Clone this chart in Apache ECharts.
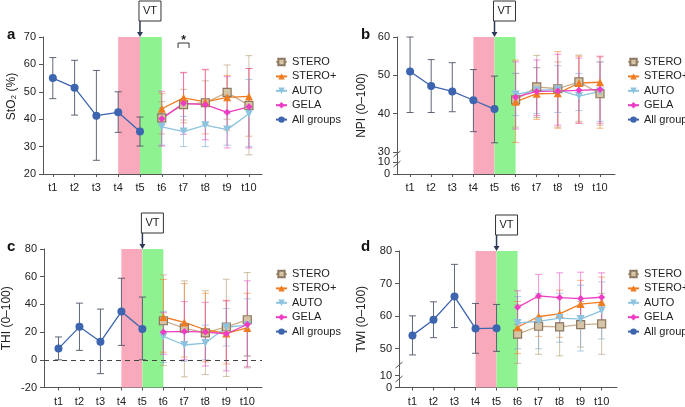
<!DOCTYPE html>
<html><head><meta charset="utf-8">
<script src="https://cdn.jsdelivr.net/npm/echarts@6/dist/echarts.min.js"></script>
<style>html,body{margin:0;padding:0;background:#fff}#c{width:685px;height:407px}</style>
</head><body><div id="c"></div>
<script>
// ---------- data ----------
const categories = ['t1','t2','t3','t4','t5','t6','t7','t8','t9','t10'];
const groupNames = ['STERO','STERO+','AUTO','GELA'];
const allName = 'All groups';

// Panel a: StO2 (%)
const stoAllMean = [55.0, 51.5, 41.3, 42.5, 35.5];
const stoAllLow  = [47.5, 41.5, 25.0, 35.2, 30.2];
const stoAllHigh = [62.5, 61.5, 57.8, 50.0, 40.8];
const stoGroupMean = [[40.5,45.3,46.0,49.8,45.0],[43.8,47.8,46.3,48.0,48.3],[37.2,35.5,37.8,36.2,42.0],[40.2,45.8,45.3,42.5,44.5]];
const stoGroupLow  = [[34.6,39.7,38.0,40.0,27.0],[38.2,38.7,34.6,36.0,33.8],[30.5,30.0,30.0,30.5,30.0],[30.2,34.5,32.5,29.5,29.5]];
const stoGroupHigh = [[46.4,50.9,54.0,59.8,63.2],[49.4,56.9,58.0,56.0,58.5],[44.0,41.0,45.6,42.0,54.5],[50.2,57.1,58.2,55.5,58.5]];

// Panel b: NPI (0–100)
const npiAllMean = [51.0, 47.2, 45.8, 43.5, 41.2];
const npiAllLow  = [40.3, 40.3, 40.5, 35.3, 32.4];
const npiAllHigh = [60.0, 54.1, 53.3, 51.5, 49.8];
const npiGroupMean = [[43.6,47.0,46.5,48.3,45.2],[43.1,45.2,45.3,48.0,48.2],[45.0,46.1,46.3,44.6,45.8],[44.3,45.8,45.9,46.1,46.3]];
const npiGroupLow  = [[36.5,39.0,36.5,38.0,37.0],[32.5,38.5,36.2,37.5,36.2],[39.5,40.0,40.3,40.8,38.0],[36.0,39.5,37.0,37.5,37.5]];
const npiGroupHigh = [[50.5,55.2,53.5,55.3,53.5],[54.0,52.0,56.2,55.0,54.8],[50.5,52.0,52.5,50.5,53.5],[53.5,54.0,55.5,54.5,55.0]];
const npiTickLabels = [0, 10, 30, 40, 50, 60];

// Panel c: THI (0–100)
const thiAllMean = [8.1, 23.8, 13.0, 34.8, 22.3];
const thiAllLow  = [0.0, 6.8, -10.0, 10.4, 0.0];
const thiAllHigh = [16.5, 40.9, 36.6, 58.9, 45.3];
const thiGroupMean = [[28.2,22.9,19.4,23.7,28.9],[30.9,27.0,21.7,19.0,23.0],[16.9,10.7,12.1,23.5,25.0],[20.1,20.5,20.0,18.8,25.5]];
const thiGroupLow  = [[-4.2,-12.3,-10.7,-12.0,-5.8],[5.5,2.0,-1.5,-3.0,3.0],[-2.0,-1.0,0.0,10.0,2.5],[4.0,0.0,-4.5,-8.0,-5.0]];
const thiGroupHigh = [[61.3,57.0,49.8,58.2,63.0],[58.0,55.0,48.0,43.0,48.0],[35.0,25.0,25.0,37.0,44.0],[34.0,42.0,41.5,42.5,57.0]];

// Panel d: TWI (0–100)
const twiAllMean = [54.1, 58.9, 66.0, 56.2, 56.3];
const twiAllLow  = [48.1, 53.4, 56.5, 48.6, 49.2];
const twiAllHigh = [60.1, 64.4, 75.9, 63.9, 63.6];
const twiGroupMean = [[54.5,56.9,56.7,57.4,57.6],[56.6,59.9,60.7,63.7,64.3],[57.9,58.4,59.4,59.1,61.7],[62.7,66.2,65.7,65.4,65.8]];
const twiGroupLow  = [[45.5,48.3,47.8,50.5,48.3],[48.5,53.8,53.5,56.5,56.5],[50.0,50.0,52.0,49.3,53.0],[57.5,59.5,58.0,58.0,58.5]];
const twiGroupHigh = [[63.5,65.5,65.5,64.5,67.0],[64.5,66.0,68.0,71.0,72.0],[66.0,67.0,67.0,69.5,70.5],[67.8,72.8,73.3,73.5,73.3]];
const twiTickLabels = [0, 10, 50, 60, 70, 80];

// ---------- styles / layout ----------
const FONT = '"Liberation Sans", Arial, "DejaVu Sans", sans-serif';
const PINK = '#f8a9bb', GREEN = '#8ef291';
const allStyle = {symbol:'circle', size:8, fill:'#3d64ae', border:'#3d64ae', bw:0, line:'#3d64ae', err:'rgba(70,78,100,0.85)'};
const groupStyles = [
  {symbol:'rect', size:8, fill:'#d6c4a7', border:'#8c7760', bw:1.2, line:'#c9ad8a', err:'rgba(185,160,120,0.65)'},
  {symbol:'triangle', size:8, fill:'#f07c22', border:'#f07c22', bw:0, line:'#f07c22', err:'rgba(240,124,34,0.55)'},
  {symbol:'path://M0,0L10,0L5,9Z', size:8, fill:'#8dc3de', border:'#8dc3de', bw:0, line:'#8dc3de', err:'rgba(120,170,205,0.6)'},
  {symbol:'diamond', size:7, fill:'#ee3cc4', border:'#ee3cc4', bw:0, line:'#ee3cc4', err:'rgba(232,60,190,0.55)'}
];

const xsAll = categories.slice(0,5).map((c,i)=>i+1);
const xsGrp = categories.slice(5).map((c,i)=>i+6);
const catIdx = categories.map((c,i)=>i+1);

const grids = [
  {left:43, top:37, width:219, height:137},
  {left:397, top:37, width:218, height:137},
  {left:43, top:249, width:219, height:139},
  {left:399, top:251, width:218, height:137}
];
const xRanges = [[0.55,10.6],[0.38,10.71],[0.31,10.7],[0.36,10.73]];
const npiTickPos = [24.26, 27.39, 30, 40, 50, 60];
const twiTickPos = [38.1, 41.77, 50, 60, 70, 80];

function labelFor(pos, labels) {
  return function(v){
    for (let i=0;i<pos.length;i++) if (Math.abs(pos[i]-v) < 0.05) return String(labels[i]);
    return '';
  };
}

const xAxes = grids.map((g,i)=>({
  type:'value', gridIndex:i, min:xRanges[i][0], max:xRanges[i][1],
  axisLine:{show:true, onZero:false, lineStyle:{color:'#555', width:1}},
  axisTick:{show:true, length:3, customValues:catIdx, lineStyle:{color:'#555'}},
  axisLabel:{customValues:catIdx, formatter:v=>categories[Math.round(v)-1], color:'#222', fontSize:11, fontFamily:FONT, margin:8.5},
  splitLine:{show:false}
}));

const yName = {color:'#222', fontSize:12, fontFamily:FONT};
const yAxes = [
  {type:'value', gridIndex:0, min:20, max:70, interval:10, name:'StO\u2082 (%)', nameLocation:'middle', nameGap:25,
   nameTextStyle:Object.assign({padding:[0,0,0,18]}, yName)},
  {type:'value', gridIndex:1, min:npiTickPos[0], max:60, name:'NPI (0\u2013100)', nameLocation:'middle', nameGap:29,
   nameTextStyle:yName,
   axisTick:{customValues:npiTickPos}, axisLabel:{customValues:npiTickPos, formatter:labelFor(npiTickPos, npiTickLabels)}},
  {type:'value', gridIndex:2, min:-20, max:80, interval:20, name:'THI (0\u2013100)', nameLocation:'middle', nameGap:31,
   nameTextStyle:yName},
  {type:'value', gridIndex:3, min:twiTickPos[0], max:80, name:'TWI (0\u2013100)', nameLocation:'middle', nameGap:31,
   nameTextStyle:yName,
   axisTick:{customValues:twiTickPos}, axisLabel:{customValues:twiTickPos, formatter:labelFor(twiTickPos, twiTickLabels)}}
].map(a=>{
  a.axisLine = {show:true, onZero:false, lineStyle:{color:'#555', width:1}};
  a.axisTick = Object.assign({show:true, length:4, lineStyle:{color:'#555'}}, a.axisTick||{});
  a.axisLabel = Object.assign({color:'#222', fontSize:11, fontFamily:FONT, margin:7}, a.axisLabel||{});
  a.splitLine = {show:false};
  return a;
});

function errSeries(gi, xs, low, high, color, z) {
  return {
    type:'custom', xAxisIndex:gi, yAxisIndex:gi, z:z, silent:true, clip:false,
    data: xs.map((x,i)=>[x, low[i], high[i]]),
    encode:{x:0, y:[1,2]},
    renderItem: function(params, api){
      const x = api.value(0);
      const p1 = api.coord([x, api.value(1)]);
      const p2 = api.coord([x, api.value(2)]);
      const w = 3.5;
      const st = {stroke:color, lineWidth:1};
      return {type:'group', children:[
        {type:'line', shape:{x1:p1[0], y1:p1[1], x2:p2[0], y2:p2[1]}, style:st},
        {type:'line', shape:{x1:p1[0]-w, y1:p1[1], x2:p1[0]+w, y2:p1[1]}, style:st},
        {type:'line', shape:{x1:p2[0]-w, y1:p2[1], x2:p2[0]+w, y2:p2[1]}, style:st}
      ]};
    }
  };
}
function lineSeries(name, gi, xs, ys, s, z) {
  return {
    type:'line', name:name, xAxisIndex:gi, yAxisIndex:gi, z:z,
    data: xs.map((x,i)=>[x, ys[i]]),
    symbol:s.symbol, symbolSize:s.size, showSymbol:true,
    itemStyle:{color:s.fill, borderColor:s.border, borderWidth:s.bw},
    lineStyle:{color:s.line, width:1.3},
    emphasis:{disabled:true}
  };
}

const panelData = [
  [stoAllMean, stoAllLow, stoAllHigh, stoGroupMean, stoGroupLow, stoGroupHigh],
  [npiAllMean, npiAllLow, npiAllHigh, npiGroupMean, npiGroupLow, npiGroupHigh],
  [thiAllMean, thiAllLow, thiAllHigh, thiGroupMean, thiGroupLow, thiGroupHigh],
  [twiAllMean, twiAllLow, twiAllHigh, twiGroupMean, twiGroupLow, twiGroupHigh]
];

const series = [];
panelData.forEach((pd, gi)=>{
  const [aM, aL, aH, gM, gL, gH] = pd;
  const band = {
    type:'line', xAxisIndex:gi, yAxisIndex:gi, z:1, silent:true,
    data: xsAll.map((x,i)=>[x, aM[i]]), showSymbol:false, lineStyle:{opacity:0},
    markArea:{silent:true, data:[
      [{xAxis:4, itemStyle:{color:PINK}}, {xAxis:5}],
      [{xAxis:5, itemStyle:{color:GREEN}}, {xAxis:6}]
    ]}
  };
  if (gi === 2) {
    band.markLine = {silent:true, symbol:'none', label:{show:false},
      lineStyle:{type:[5,4], color:'#444', width:1}, data:[{yAxis:0}]};
  }
  series.push(band);
  series.push(errSeries(gi, xsAll, aL, aH, allStyle.err, 3));
  gM.forEach((m, k)=> series.push(errSeries(gi, xsGrp, gL[k], gH[k], groupStyles[k].err, 3)));
  gM.forEach((m, k)=> series.push(lineSeries(groupNames[k], gi, xsGrp, m, groupStyles[k], 5)));
  series.push(lineSeries(allName, gi, xsAll, aM, allStyle, 6));
});

const legendNames = groupNames.concat([allName]);
const legendPos = [[275,56],[627,56],[275,268],[627,268]];
const legends = legendPos.map(p=>({
  data:legendNames, left:p[0], top:p[1], orient:'vertical', padding:0,
  itemWidth:11, itemHeight:8, itemGap:2.4, selectedMode:false,
  textStyle:{fontSize:11, fontFamily:FONT, color:'#222', lineHeight:12}
}));

const titles = [['a',2,22],['b',356,22],['c',2,234],['d',356,234]].map(t=>({
  text:t[0], left:t[1], top:t[2], textStyle:{fontSize:15, fontWeight:'bold', fontFamily:FONT, color:'#111'}
}));

const chart = echarts.init(document.getElementById('c'), null, {renderer:'canvas'});
chart.setOption({
  animation:false, backgroundColor:'#fff',
  title:titles, legend:legends, grid:grids, xAxis:xAxes, yAxis:yAxes, series:series
});

// ---------- annotations ----------
const yMaxes = [70, 60, 80, 80];
const els = [];
yMaxes.forEach((ym, gi)=>{
  const p = chart.convertToPixel({gridIndex:gi}, [5, ym]);
  const x = p[0], top = p[1];
  const bb = top - 16, bt = bb - 20;
  els.push({type:'line', shape:{x1:x, y1:bb, x2:x, y2:top-4}, style:{stroke:'#2d3a55', lineWidth:1.5}, z:20});
  els.push({type:'polygon', shape:{points:[[x-3,top-5],[x+3,top-5],[x,top]]}, style:{fill:'#2d3a55'}, z:20});
  els.push({type:'rect', shape:{x:x-1, y:bt, width:22, height:20}, style:{fill:'#fff', stroke:'#333', lineWidth:1}, z:21});
  els.push({type:'text', x:x+10, y:bt+10, style:{text:'VT', fill:'#222', font:'11px '+FONT, align:'center', verticalAlign:'middle'}, z:22});
});
// significance bracket at t7 (panel a)
const s7 = chart.convertToPixel({gridIndex:0}, [7, 70]);
els.push({type:'polyline', shape:{points:[[s7[0]-5.5, s7[1]+11],[s7[0]-5.5, s7[1]+6],[s7[0]+5.5, s7[1]+6],[s7[0]+5.5, s7[1]+11]]},
  style:{stroke:'#333', lineWidth:1, fill:null}, z:20});
els.push({type:'text', x:s7[0], y:s7[1]+4, style:{text:'*', fill:'#222', font:'bold 12px '+FONT, align:'center', verticalAlign:'middle'}, z:20});
// axis-break marks (panels b, d)
[[1, [29.5, 26.87]], [3, [45.0, 40.7]]].forEach(([gi, vals])=>{
  vals.forEach(v=>{
    const p = chart.convertToPixel({gridIndex:gi}, [xRanges[gi][0], v]);
    els.push({type:'line', shape:{x1:p[0]-3.5, y1:p[1]+3, x2:p[0]+3.5, y2:p[1]-3}, style:{stroke:'#555', lineWidth:1}, z:20});
  });
});
chart.setOption({graphic:els});
</script>
</body></html>
